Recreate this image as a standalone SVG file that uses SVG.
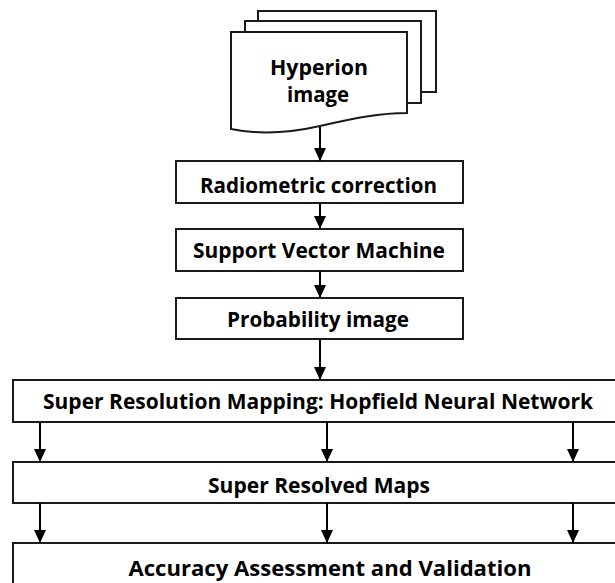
<svg xmlns="http://www.w3.org/2000/svg" width="615" height="583" viewBox="0 0 615 583">
  <style>
    .box { fill: #ffffff; stroke: #1a1a1a; stroke-width: 2; }
    .lbl { font-family: "Open Sans", "Liberation Sans", sans-serif; font-weight: 700; font-size: 22px; fill: #000000; text-anchor: middle; }
    .conn { stroke: #000000; stroke-width: 2; fill: none; marker-end: url(#arrow); }
  </style>
  <defs>
    <!-- filled arrowhead, tip at the end of the line -->
    <marker id="arrow" markerUnits="userSpaceOnUse" markerWidth="14" markerHeight="12" refX="13" refY="6" orient="auto" viewBox="0 0 14 12">
      <path d="M0,0 L13,6 L0,12 Z" fill="#000000"/>
    </marker>
  </defs>
  <rect width="615" height="583" fill="#ffffff"/>

  <!-- stacked document input -->
  <g id="hyperion-image">
    <rect class="box" x="258" y="11" width="178" height="81"/>
    <rect class="box" x="245" y="21" width="176" height="82"/>
    <path class="box" d="M231,32 H407 V113 C380,113 355,118 320,126 C285,134 255,134 231,129 Z"/>
    <text class="lbl" x="319" y="75" font-size="23" textLength="98" lengthAdjust="spacingAndGlyphs">Hyperion</text>
    <text class="lbl" x="318" y="102" font-size="23" textLength="62" lengthAdjust="spacingAndGlyphs">image</text>
  </g>

  <g id="radiometric-correction">
    <rect class="box" x="176" y="161" width="287" height="42"/>
    <text class="lbl" x="318.5" y="193" textLength="237" lengthAdjust="spacingAndGlyphs">Radiometric correction</text>
  </g>

  <g id="support-vector-machine">
    <rect class="box" x="176" y="229" width="287" height="42"/>
    <text class="lbl" x="319" y="258" textLength="252" lengthAdjust="spacingAndGlyphs">Support Vector Machine</text>
  </g>

  <g id="probability-image">
    <rect class="box" x="176" y="298" width="287" height="41"/>
    <text class="lbl" x="318" y="327" textLength="182" lengthAdjust="spacingAndGlyphs">Probability image</text>
  </g>

  <!-- wide stages run past the right edge of the canvas -->
  <g id="super-resolution-mapping">
    <rect class="box" x="13" y="380" width="604" height="42"/>
    <text class="lbl" x="318" y="409" textLength="550" lengthAdjust="spacingAndGlyphs">Super Resolution Mapping: Hopfield Neural Network</text>
  </g>

  <g id="super-resolved-maps">
    <rect class="box" x="13" y="462" width="604" height="41"/>
    <text class="lbl" x="319" y="493" textLength="222" lengthAdjust="spacingAndGlyphs">Super Resolved Maps</text>
  </g>

  <g id="accuracy-assessment">
    <rect class="box" x="13" y="543" width="604" height="42"/>
    <text class="lbl" x="330" y="576" textLength="403" lengthAdjust="spacingAndGlyphs">Accuracy Assessment and Validation</text>
  </g>

  <g id="connectors">
    <line class="conn" x1="320" y1="127" x2="320" y2="161"/>
    <line class="conn" x1="320" y1="203" x2="320" y2="229"/>
    <line class="conn" x1="320" y1="271" x2="320" y2="298"/>
    <line class="conn" x1="320" y1="339" x2="320" y2="380"/>
    <line class="conn" x1="40" y1="422" x2="40" y2="462"/>
    <line class="conn" x1="327" y1="422" x2="327" y2="462"/>
    <line class="conn" x1="573" y1="422" x2="573" y2="462"/>
    <line class="conn" x1="40" y1="503" x2="40" y2="543"/>
    <line class="conn" x1="327" y1="503" x2="327" y2="543"/>
    <line class="conn" x1="573" y1="503" x2="573" y2="543"/>
  </g>
</svg>
